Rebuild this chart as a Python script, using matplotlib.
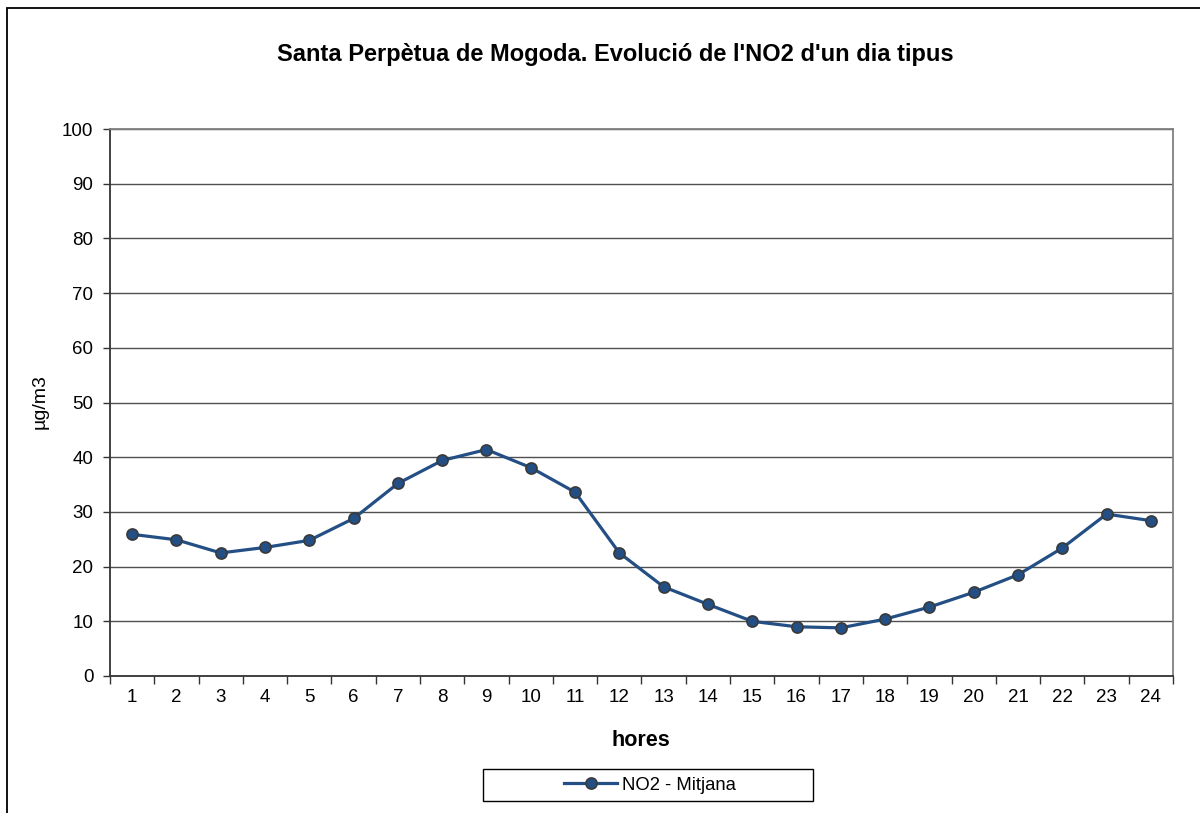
import matplotlib
matplotlib.use("Agg")
import matplotlib.pyplot as plt
from matplotlib.patches import Rectangle

# Hourly mean NO2 (ug/m3), typical day
hours = list(range(1, 25))
no2_mean = [25.9, 24.9, 22.5, 23.5, 24.8, 28.8, 35.2, 39.4, 41.4, 38.1, 33.6, 22.5,
            16.3, 13.1, 10.0, 9.0, 8.8, 10.4, 12.6, 15.3, 18.5, 23.4, 29.6, 28.4]
y_ticks = list(range(0, 101, 10))

plt.rcParams['font.family'] = ['Liberation Sans', 'DejaVu Sans']

LINE_COL = '#234F85'
EDGE_COL = '#3A3A3A'

fig = plt.figure(figsize=(12, 8.13), dpi=100)
ax = fig.add_axes([110/1200, 1 - 676/813, (1173 - 110)/1200, (676 - 129)/813])

# outer chart border (cut off at right and bottom like the original)
fig.patches.append(Rectangle((7/1200, -0.05), 1.2, 1.05 - 8/813, transform=fig.transFigure,
                             fill=False, edgecolor='black', linewidth=1.3))

ax.plot(hours, no2_mean, color=LINE_COL, linewidth=2.3, marker='o', markersize=8,
        markerfacecolor=LINE_COL, markeredgecolor=EDGE_COL, markeredgewidth=1.2,
        label='NO2 - Mitjana', zorder=3)

ax.set_xlim(0.5, 24.5)
ax.set_ylim(0, 100)
ax.set_yticks(y_ticks)
ax.set_yticklabels([str(v) for v in y_ticks], fontsize=13.5)
ax.set_xticks(hours)
ax.set_xticklabels([str(h) for h in hours], fontsize=13.5)
ax.set_xticks([h + 0.5 for h in range(0, 25)], minor=True)
ax.tick_params(axis='x', which='major', length=0, pad=9)
ax.tick_params(axis='x', which='minor', length=6, width=1, color='#333333', direction='out')
ax.tick_params(axis='y', length=5, width=1, color='#333333', pad=7)
ax.yaxis.grid(True, color='#505050', linewidth=1)
ax.set_axisbelow(True)

for side in ['left', 'bottom']:
    ax.spines[side].set_color('#333333')
    ax.spines[side].set_linewidth(1.3)
for side in ['right', 'top']:
    ax.spines[side].set_color('#808080')
    ax.spines[side].set_linewidth(1.3)

fig.text(615/1200, 1 - 55/813, "Santa Perpètua de Mogoda. Evolució de l'NO2 d'un dia tipus",
         ha='center', va='center', fontsize=17, fontweight='bold')
fig.text(641/1200, 1 - 740/813, 'hores', ha='center', va='center', fontsize=15.5, fontweight='bold')
fig.text(40/1200, 1 - 402/813, 'µg/m3', ha='center', va='center', rotation=90, fontsize=14)

# legend box
fig.patches.append(Rectangle((483/1200, 1 - 801/813), 330/1200, 32/813, transform=fig.transFigure,
                             fill=False, edgecolor='black', linewidth=1))
fig.legend(loc='center', bbox_to_anchor=(650/1200, 1 - 785/813), frameon=False,
           fontsize=13.3, handlelength=2.9, handletextpad=0.27)

fig.savefig('out.png', dpi=100)
